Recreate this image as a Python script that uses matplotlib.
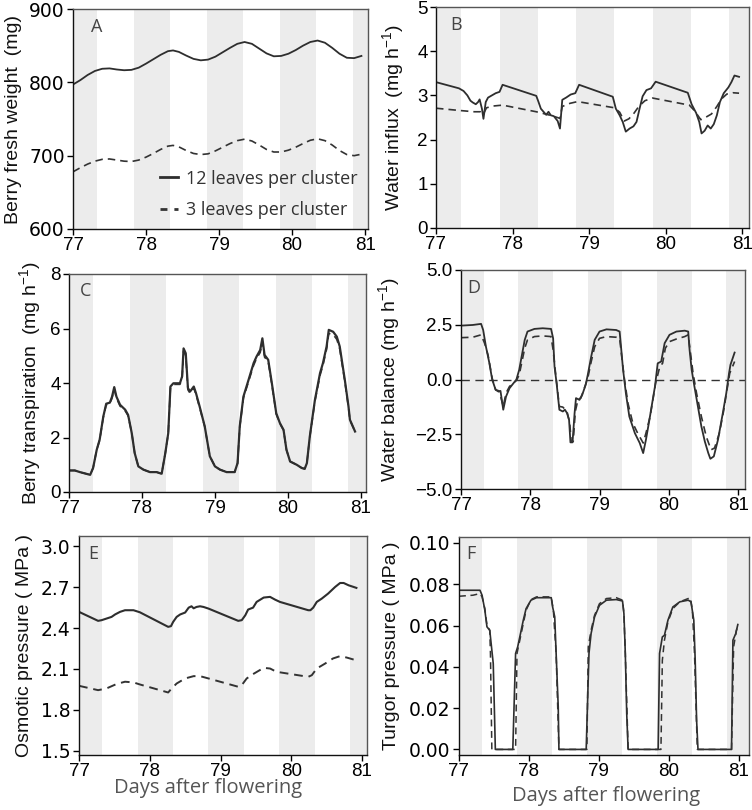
import matplotlib
matplotlib.use("Agg")
import matplotlib.pyplot as plt
from matplotlib.lines import Line2D

plt.rcParams['font.family'] = ['Liberation Sans', 'DejaVu Sans']
plt.rcParams['mathtext.fontset'] = 'custom'
plt.rcParams['mathtext.rm'] = 'Liberation Sans'
plt.rcParams['mathtext.it'] = 'Liberation Sans:italic'
plt.rcParams['mathtext.bf'] = 'Liberation Sans:bold'

# ---------------- data ----------------
night_start = [76.83, 77.83, 78.83, 79.83, 80.83]
night_end = [77.33, 78.33, 79.33, 80.33, 81.33]

series_labels = ["12 leaves per cluster", "3 leaves per cluster"]
x_ticks = [77, 78, 79, 80, 81]

# A: berry fresh weight (mg)
a12_x = [77.00, 77.10, 77.20, 77.30, 77.40, 77.50, 77.60, 77.70, 77.80, 77.90, 78.00, 78.10, 78.20, 78.30,
         78.37, 78.45, 78.55, 78.65, 78.75, 78.85, 78.95, 79.05, 79.15, 79.25, 79.35, 79.45, 79.55, 79.65,
         79.75, 79.85, 79.95, 80.05, 80.15, 80.25, 80.35, 80.45, 80.55, 80.65, 80.75, 80.85, 80.95]
a12_y = [797, 803, 810, 815.5, 818.5, 819, 817.5, 816.5, 817, 820, 825.5, 831.5, 837.5, 842.5,
         843.5, 841.5, 836.5, 832, 830, 831, 835, 841, 847, 852.5, 855, 852.5, 846, 839.5,
         835.5, 836, 839, 844, 850, 855, 857, 854, 847, 839, 833.5, 833, 836]
a3_x = a12_x
a3_y = [678, 683.5, 688.5, 692.5, 695, 695.5, 694, 692.5, 692, 694, 698, 703, 708.5, 713,
        714, 712, 707, 703, 701.5, 702.5, 706.5, 711.5, 716.5, 720.5, 722.5, 720, 714.5, 708.5,
        705, 705, 707.5, 711.5, 716.5, 721, 723, 720.5, 714.5, 707, 701.5, 700, 702]

# B: water influx (mg h-1)
b12_x = [77.00, 77.30, 77.36, 77.41, 77.45, 77.48, 77.52, 77.55, 77.57, 77.60, 77.62, 77.65, 77.68, 77.73,
         77.78, 77.83, 77.87, 78.31, 78.34, 78.37, 78.41, 78.44, 78.47, 78.50, 78.54, 78.59, 78.62, 78.65,
         78.70, 78.76, 78.82, 78.87, 79.31, 79.35, 79.40, 79.44, 79.48, 79.53, 79.58, 79.62, 79.66, 79.70,
         79.75, 79.81, 79.87, 80.29, 80.34, 80.40, 80.44, 80.47, 80.51, 80.55, 80.59, 80.63, 80.67, 80.71,
         80.76, 80.82, 80.86, 80.90, 80.96]
b12_y = [3.30, 3.16, 3.10, 3.00, 2.88, 2.84, 2.80, 2.85, 2.91, 2.70, 2.47, 2.85, 2.95, 3.00,
         3.05, 3.08, 3.24, 2.99, 2.85, 2.70, 2.62, 2.56, 2.63, 2.55, 2.53, 2.42, 2.25, 2.90,
         2.95, 3.02, 3.05, 3.24, 2.97, 2.70, 2.55, 2.40, 2.18, 2.25, 2.30, 2.40, 2.70, 2.98,
         3.12, 3.16, 3.31, 3.06, 2.80, 2.60, 2.40, 2.14, 2.20, 2.32, 2.25, 2.35, 2.55, 2.85,
         3.05, 3.18, 3.30, 3.45, 3.42]
b3_x = [77.00, 77.30, 77.50, 77.58, 77.62, 77.66, 77.75, 77.87, 78.31, 78.45, 78.55, 78.62, 78.65, 78.75,
        78.85, 79.33, 79.40, 79.46, 79.52, 79.58, 79.65, 79.73, 79.83, 80.31, 80.38, 80.46, 80.52, 80.60,
        80.67, 80.73, 80.80, 80.88, 80.96]
b3_y = [2.71, 2.66, 2.63, 2.63, 2.58, 2.72, 2.76, 2.78, 2.63, 2.57, 2.52, 2.48, 2.75, 2.82,
        2.86, 2.72, 2.62, 2.42, 2.47, 2.58, 2.75, 2.88, 2.94, 2.78, 2.65, 2.45, 2.50, 2.58,
        2.75, 2.92, 3.03, 3.06, 3.05]

# C: berry transpiration (mg h-1)
c_x = [77.00, 77.08, 77.15, 77.29, 77.33, 77.38, 77.42, 77.47, 77.51, 77.56, 77.59, 77.62, 77.65, 77.70,
       77.77, 77.81, 77.86, 77.90, 77.95, 78.02, 78.11, 78.20, 78.27, 78.32, 78.36, 78.39, 78.43, 78.52,
       78.55, 78.57, 78.60, 78.63, 78.66, 78.71, 78.74, 78.79, 78.86, 78.93, 79.00, 79.07, 79.16, 79.27,
       79.31, 79.34, 79.39, 79.46, 79.53, 79.57, 79.62, 79.65, 79.68, 79.73, 79.78, 79.84, 79.89, 79.94,
       79.98, 80.03, 80.12, 80.19, 80.23, 80.26, 80.30, 80.37, 80.44, 80.48, 80.53, 80.56, 80.62, 80.67,
       80.71, 80.78, 80.83, 80.85, 80.92]
c12_y = [0.79, 0.79, 0.73, 0.63, 0.88, 1.55, 1.92, 2.77, 3.24, 3.28, 3.50, 3.85, 3.50, 3.20,
         3.02, 2.83, 2.16, 1.43, 0.94, 0.82, 0.73, 0.73, 0.67, 1.43, 2.16, 3.87, 3.99, 3.99,
         4.24, 5.27, 5.09, 3.81, 3.69, 3.87, 3.63, 3.14, 2.41, 1.31, 0.94, 0.82, 0.73, 0.73,
         1.06, 2.41, 3.50, 4.11, 4.73, 4.97, 5.21, 5.64, 5.03, 4.85, 3.99, 2.89, 2.53, 2.28,
         1.55, 1.12, 1.00, 0.88, 0.85, 1.06, 2.04, 3.38, 4.36, 4.73, 5.34, 5.95, 5.88, 5.70,
         5.34, 4.11, 3.14, 2.65, 2.22]
c3_y = [0.79, 0.79, 0.73, 0.63, 0.88, 1.55, 1.90, 2.74, 3.20, 3.24, 3.45, 3.78, 3.45, 3.15,
        2.98, 2.80, 2.16, 1.43, 0.94, 0.82, 0.73, 0.73, 0.67, 1.43, 2.14, 3.82, 3.95, 3.95,
        4.18, 5.18, 5.00, 3.75, 3.62, 3.82, 3.58, 3.10, 2.40, 1.31, 0.94, 0.82, 0.73, 0.73,
        1.06, 2.38, 3.45, 4.05, 4.65, 4.90, 5.12, 5.52, 4.95, 4.78, 3.94, 2.86, 2.51, 2.27,
        1.55, 1.12, 1.00, 0.88, 0.85, 1.06, 2.02, 3.33, 4.28, 4.65, 5.24, 5.82, 5.78, 5.60,
        5.25, 4.05, 3.10, 2.63, 2.22]

# D: water balance (mg h-1)
d12_x = [77.00, 77.17, 77.29, 77.32, 77.36, 77.39, 77.41, 77.45, 77.50, 77.54, 77.57, 77.61, 77.65, 77.70,
         77.75, 77.80, 77.84, 77.92, 77.96, 78.06, 78.18, 78.30, 78.33, 78.35, 78.38, 78.42, 78.47, 78.50,
         78.53, 78.56, 78.58, 78.61, 78.64, 78.66, 78.71, 78.75, 78.80, 78.83, 78.88, 78.93, 79.00, 79.10,
         79.24, 79.29, 79.31, 79.34, 79.38, 79.43, 79.51, 79.58, 79.63, 79.67, 79.72, 79.80, 79.84, 79.89,
         79.94, 80.01, 80.11, 80.23, 80.28, 80.30, 80.33, 80.37, 80.42, 80.47, 80.52, 80.57, 80.60, 80.65,
         80.71, 80.78, 80.83, 80.87, 80.89, 80.95]
d12_y = [2.46, 2.49, 2.54, 2.26, 1.50, 1.05, 0.74, 0.00, -0.47, -0.55, -0.52, -1.38, -0.78, -0.40,
         -0.20, 0.00, 0.44, 1.81, 2.19, 2.31, 2.34, 2.31, 1.88, 0.59, -0.17, -1.38, -1.46, -1.38,
         -1.53, -1.84, -2.87, -2.87, -1.53, -0.85, -0.93, -0.70, -0.24, 0.21, 1.05, 1.81, 2.19, 2.29,
         2.26, 2.19, 1.50, 0.44, -0.62, -1.69, -2.45, -2.90, -3.36, -2.75, -1.84, -0.32, 0.74, 0.82,
         1.66, 2.04, 2.19, 2.23, 2.19, 1.35, 0.44, -0.32, -1.23, -2.14, -2.83, -3.36, -3.62, -3.51,
         -2.75, -1.53, -0.62, 0.29, 0.67, 1.23]
d3_x = [77.00, 77.17, 77.29, 77.34, 77.39, 77.45, 77.50, 77.55, 77.61, 77.65, 77.70, 77.75, 77.80, 77.84,
        77.92, 77.96, 78.06, 78.18, 78.30, 78.33, 78.37, 78.42, 78.47, 78.53, 78.57, 78.59, 78.62, 78.65,
        78.69, 78.73, 78.78, 78.83, 78.88, 78.93, 79.00, 79.10, 79.24, 79.29, 79.32, 79.36, 79.41, 79.48,
        79.55, 79.63, 79.67, 79.73, 79.81, 79.87, 79.91, 79.95, 80.01, 80.11, 80.23, 80.28, 80.31, 80.35,
        80.40, 80.47, 80.54, 80.61, 80.66, 80.73, 80.79, 80.84, 80.88, 80.92, 80.95]
d3_y = [1.91, 1.93, 2.04, 1.66, 1.12, 0.06, -0.47, -0.52, -1.23, -0.62, -0.32, -0.17, -0.05, 0.21,
        1.43, 1.81, 1.96, 1.99, 1.96, 1.35, 0.14, -1.23, -1.26, -1.46, -1.99, -2.83, -2.83, -1.46,
        -0.90, -0.85, -0.40, 0.06, 0.82, 1.50, 1.88, 1.96, 1.93, 1.88, 1.05, 0.00, -1.08, -1.99,
        -2.45, -2.90, -2.45, -1.69, -0.17, 0.59, 0.74, 1.43, 1.73, 1.85, 1.96, 2.04, 1.28, 0.29,
        -0.62, -1.69, -2.60, -3.21, -3.13, -2.45, -1.46, -0.47, 0.29, 0.59, 0.82]

# E: osmotic pressure (MPa)
e12_x = [77.00, 77.27, 77.32, 77.39, 77.46, 77.51, 77.58, 77.65, 77.77, 77.86, 78.26, 78.30, 78.33, 78.38,
         78.43, 78.50, 78.55, 78.59, 78.62, 78.66, 78.71, 78.76, 78.83, 79.25, 79.30, 79.35, 79.39, 79.46,
         79.51, 79.61, 79.70, 79.77, 79.84, 80.24, 80.27, 80.31, 80.36, 80.43, 80.52, 80.62, 80.69, 80.74,
         80.81, 80.88, 80.92]
e12_y = [2.519, 2.453, 2.458, 2.470, 2.482, 2.500, 2.519, 2.531, 2.531, 2.516, 2.409, 2.414, 2.445, 2.482,
         2.500, 2.514, 2.550, 2.560, 2.545, 2.555, 2.560, 2.555, 2.543, 2.453, 2.458, 2.494, 2.536, 2.550,
         2.592, 2.624, 2.629, 2.609, 2.592, 2.531, 2.531, 2.550, 2.592, 2.616, 2.653, 2.702, 2.731, 2.731,
         2.714, 2.702, 2.695]
e3_x = [77.00, 77.27, 77.39, 77.53, 77.65, 77.77, 77.86, 78.26, 78.31, 78.38, 78.50, 78.62, 78.71, 78.83,
        79.25, 79.30, 79.37, 79.46, 79.61, 79.70, 79.79, 80.24, 80.29, 80.36, 80.48, 80.59, 80.69, 80.78,
        80.88, 80.92]
e3_y = [1.976, 1.944, 1.957, 1.989, 2.006, 2.001, 1.986, 1.927, 1.957, 1.993, 2.030, 2.047, 2.047, 2.030,
        1.969, 1.981, 2.030, 2.062, 2.108, 2.103, 2.079, 2.042, 2.054, 2.103, 2.140, 2.177, 2.194, 2.184,
        2.169, 2.164]

# F: turgor pressure (MPa)
f12_x = [77.00, 77.30, 77.33, 77.37, 77.40, 77.44, 77.46, 77.49, 77.51, 77.52, 77.77, 77.81, 77.84, 77.88,
         77.92, 77.96, 78.03, 78.11, 78.32, 78.34, 78.37, 78.39, 78.42, 78.43, 78.82, 78.86, 78.89, 78.94,
         79.01, 79.11, 79.25, 79.34, 79.36, 79.38, 79.40, 79.42, 79.85, 79.87, 79.91, 79.94, 79.99, 80.06,
         80.16, 80.28, 80.32, 80.36, 80.38, 80.40, 80.42, 80.90, 80.92, 80.96, 80.99]
f12_y = [0.0771, 0.0771, 0.0747, 0.0674, 0.0594, 0.0577, 0.0513, 0.0416, 0.0142, 0.0, 0.0, 0.0465, 0.0497, 0.0561,
         0.0626, 0.0682, 0.0723, 0.0735, 0.0735, 0.0690, 0.0642, 0.0465, 0.0206, 0.0, 0.0, 0.0465, 0.0561, 0.0642,
         0.0698, 0.0723, 0.0726, 0.0719, 0.0658, 0.0465, 0.0174, 0.0, 0.0, 0.0465, 0.0545, 0.0553, 0.0626, 0.0690,
         0.0715, 0.0723, 0.0715, 0.0626, 0.0432, 0.0142, 0.0, 0.0, 0.0529, 0.0561, 0.0605]
f3_x = [77.00, 77.20, 77.30, 77.33, 77.37, 77.40, 77.44, 77.45, 77.47, 77.81, 77.83, 77.87, 77.92, 77.96,
        78.03, 78.11, 78.32, 78.35, 78.39, 78.43, 78.83, 78.85, 78.89, 78.94, 79.01, 79.11, 79.25, 79.34,
        79.36, 79.38, 79.42, 79.89, 79.91, 79.94, 79.99, 80.06, 80.16, 80.28, 80.31, 80.34, 80.37, 80.41,
        80.90, 80.93, 80.97, 80.99]
f3_y = [0.0742, 0.0747, 0.0755, 0.0739, 0.0682, 0.0602, 0.0577, 0.0465, 0.0, 0.0, 0.0465, 0.0529, 0.0610, 0.0674,
        0.0726, 0.0739, 0.0739, 0.0674, 0.0465, 0.0, 0.0, 0.0497, 0.0577, 0.0650, 0.0706, 0.0731, 0.0735, 0.0723,
        0.0658, 0.0465, 0.0, 0.0, 0.0432, 0.0529, 0.0618, 0.0682, 0.0715, 0.0731, 0.0735, 0.0674, 0.0465, 0.0,
        0.0, 0.0497, 0.0577, 0.0597]

# ---------------- figure ----------------
W, H = 752, 810
fig = plt.figure(figsize=(W / 100, H / 100), dpi=100)


def make_ax(l, r, t, b):
    return fig.add_axes([l / W, 1 - b / H, (r - l) / W, (b - t) / H])


axA = make_ax(73, 368, 9, 229)
axB = make_ax(436, 749, 7, 228)
axC = make_ax(69, 366, 274, 492)
axD = make_ax(461, 745, 270, 489)
axE = make_ax(79, 367, 536, 755)
axF = make_ax(459, 749, 537, 755)

SOLID_C = '#2e2e2e'
DASH_C = '#333333'
DASH = (0, (4.5, 3.0))
BAND_C = '#ececec'
open_font = ['Open Sans', 'DejaVu Sans']

# (axis, letter, x max, y limits, y ticks, format, y label, label x (centre), letter x, wide y-tick font)
panels = [
    (axA, 'A', 81.04, (600, 900), [600, 700, 800, 900], '{:.0f}', 'Berry fresh weight  (mg)', -0.201, 0.08, True),
    (axB, 'B', 81.09, (0, 5), [0, 1, 2, 3, 4, 5], '{:.0f}', 'Water influx  (mg h$^{-1}$)', -0.137, 0.064, False),
    (axC, 'C', 81.07, (0, 8), [0, 2, 4, 6, 8], '{:.0f}', 'Berry transpiration  (mg h$^{-1}$)', -0.131, 0.057, False),
    (axD, 'D', 81.10, (-5, 5), [-5, -2.5, 0, 2.5, 5], '{:.1f}', 'Water balance (mg h$^{-1}$)', -0.254, 0.046, False),
    (axE, 'E', 81.07, (1.468, 3.076), [1.5, 1.8, 2.1, 2.4, 2.7, 3.0], '{:.1f}', 'Osmotic pressure ( MPa )', -0.1875, 0.05, True),
    (axF, 'F', 81.15, (-0.0027, 0.1029), [0, 0.02, 0.04, 0.06, 0.08, 0.10], '{:.2f}', 'Turgor pressure ( MPa )', -0.234, 0.04, True),
]

for ax, letter, xr, yl, yt, fmt, ylab, labx, letx, wide in panels:
    for s, e in zip(night_start, night_end):
        ax.axvspan(s, e, color=BAND_C, lw=0, zorder=0)
    ax.set_xlim(77, xr)
    ax.set_ylim(*yl)
    ax.set_xticks(x_ticks)
    ax.set_xticklabels([str(v) for v in x_ticks])
    ax.set_yticks(yt)
    ax.set_yticklabels([fmt.format(v).replace('-', '\u2212') for v in yt])
    ax.tick_params(axis='both', direction='out', length=4, width=1, labelsize=13.5, pad=2, colors='black')
    ax.tick_params(axis='x', pad=1.5)
    if wide:
        for t in ax.get_yticklabels():
            t.set_family(['DejaVu Sans'])
            t.set_fontsize(13.5)
    for sp in ['left', 'bottom']:
        ax.spines[sp].set_color('#111111')
        ax.spines[sp].set_linewidth(1.0)
    for sp in ['top', 'right']:
        ax.spines[sp].set_color('#555555')
        ax.spines[sp].set_linewidth(1.0)
    ax.set_ylabel(ylab, fontsize=14, color='#111111')
    ax.yaxis.label.set_va('center')
    ax.yaxis.set_label_coords(labx, 0.5)
    ax.text(letx, 0.92, letter, transform=ax.transAxes, fontsize=13, color='#444444',
            family=open_font, ha='center', va='center')

# lines
axA.plot(a12_x, a12_y, color=SOLID_C, lw=1.3)
axA.plot(a3_x, a3_y, color=DASH_C, lw=1.2, linestyle=DASH)
axB.plot(b12_x, b12_y, color=SOLID_C, lw=1.3)
axB.plot(b3_x, b3_y, color=DASH_C, lw=1.2, linestyle=DASH)
axC.plot(c_x, c3_y, color=DASH_C, lw=1.2, linestyle=DASH)
axC.plot(c_x, c12_y, color=SOLID_C, lw=1.6)
axD.axhline(0, color='#333333', lw=1.0, linestyle=(0, (6, 4)))
axD.plot(d12_x, d12_y, color=SOLID_C, lw=1.3)
axD.plot(d3_x, d3_y, color=DASH_C, lw=1.2, linestyle=DASH)
axE.plot(e12_x, e12_y, color=SOLID_C, lw=1.5)
axE.plot(e3_x, e3_y, color=DASH_C, lw=1.4, linestyle=DASH)
axF.plot(f12_x, f12_y, color=SOLID_C, lw=1.2)
axF.plot(f3_x, f3_y, color=DASH_C, lw=1.1, linestyle=DASH)

# legend in A
handles = [Line2D([], [], color=SOLID_C, lw=2.0),
           Line2D([], [], color=DASH_C, lw=2.0, linestyle=(0, (2.5, 2.5)))]
leg = axA.legend(handles, series_labels, loc='lower right', bbox_to_anchor=(1.0, 0.0),
                 frameon=False, handlelength=1.0, handletextpad=0.45, labelspacing=0.75,
                 prop={'family': open_font, 'size': 13}, borderaxespad=0.15)
for t in leg.get_texts():
    t.set_color('#333333')

# x labels
for ax, lx, ly in [(axE, 0.448, -0.151), (axF, 0.507, -0.19)]:
    ax.set_xlabel('Days after flowering', fontsize=14.5, color='#555555', family=open_font)
    ax.xaxis.label.set_va('center')
    ax.xaxis.set_label_coords(lx, ly)

fig.savefig('out.png', dpi=100)
